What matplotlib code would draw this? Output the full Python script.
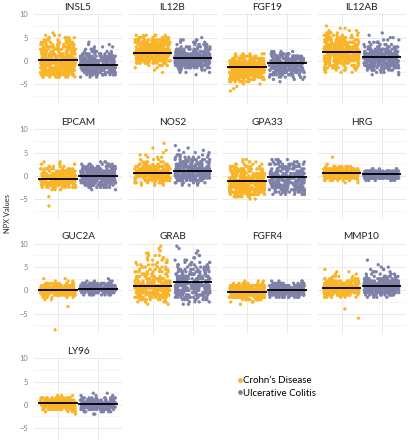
import numpy as np
import pandas as pd
import seaborn as sns
import matplotlib
matplotlib.use('Agg')
import matplotlib.pyplot as plt
from matplotlib.lines import Line2D

# marker panels, in facet order
markers = ['INSL5', 'IL12B', 'FGF19', 'IL12AB',
           'EPCAM', 'NOS2', 'GPA33', 'HRG',
           'GUC2A', 'GRAB', 'FGFR4', 'MMP10',
           'LY96']
groups = ['Crohn’s Disease', 'Ulcerative Colitis']

# NPX value -> number of patients (0.5 steps)
cd_counts = [
    {-3.5: 10, -3.0: 22, -2.5: 26, -2.0: 28, -1.5: 30, -1.0: 30, -0.5: 30, 0.0: 28, 0.5: 26, 1.0: 24,
     1.5: 22, 2.0: 20, 2.5: 18, 3.0: 16, 3.5: 13, 4.0: 10, 4.5: 8, 5.0: 6, 5.5: 3, 6.0: 1},
    {-2.5: 1, -2.0: 1, -1.5: 2, -1.0: 6, -0.5: 14, 0.0: 22, 0.5: 28, 1.0: 34, 1.5: 38, 2.0: 38,
     2.5: 36, 3.0: 32, 3.5: 28, 4.0: 24, 4.5: 18, 5.0: 12, 5.5: 6},
    {-6.5: 1, -6.0: 1, -5.5: 1, -5.0: 2, -4.5: 8, -4.0: 18, -3.5: 26, -3.0: 32, -2.5: 36, -2.0: 38,
     -1.5: 40, -1.0: 38, -0.5: 34, 0.0: 28, 0.5: 20, 1.0: 12, 1.5: 5},
    {-2.5: 3, -2.0: 6, -1.5: 10, -1.0: 14, -0.5: 18, 0.0: 22, 0.5: 26, 1.0: 28, 1.5: 30, 2.0: 30,
     2.5: 28, 3.0: 26, 3.5: 24, 4.0: 20, 4.5: 16, 5.0: 12, 5.5: 9, 6.0: 6, 6.5: 3, 7.0: 2, 7.5: 1},
    {-6.5: 1, -4.5: 1, -3.0: 3, -2.5: 14, -2.0: 30, -1.5: 44, -1.0: 52, -0.5: 52, 0.0: 44, 0.5: 32,
     1.0: 20, 1.5: 12, 2.0: 6, 2.5: 3, 3.0: 2},
    {-2.0: 3, -1.5: 10, -1.0: 24, -0.5: 38, 0.0: 48, 0.5: 50, 1.0: 44, 1.5: 32, 2.0: 20, 2.5: 10,
     3.0: 5, 3.5: 3, 4.0: 3, 4.5: 2, 5.0: 1, 5.5: 1, 6.0: 1, 7.0: 1},
    {-5.0: 2, -4.5: 8, -4.0: 18, -3.5: 26, -3.0: 30, -2.5: 32, -2.0: 32, -1.5: 32, -1.0: 30, -0.5: 28,
     0.0: 24, 0.5: 20, 1.0: 16, 1.5: 12, 2.0: 9, 2.5: 6, 3.0: 4, 3.5: 2},
    {-1.5: 2, -1.0: 10, -0.5: 30, 0.0: 60, 0.5: 80, 1.0: 60, 1.5: 28, 2.0: 8, 2.5: 1, 4.0: 1},
    {-8.5: 1, -3.5: 1, -2.0: 2, -1.5: 8, -1.0: 30, -0.5: 60, 0.0: 80, 0.5: 70, 1.0: 40, 1.5: 12,
     2.0: 3, 2.5: 2},
    {-3.0: 2, -2.5: 4, -2.0: 10, -1.5: 18, -1.0: 26, -0.5: 32, 0.0: 34, 0.5: 34, 1.0: 30, 1.5: 24,
     2.0: 18, 2.5: 14, 3.0: 11, 3.5: 9, 4.0: 8, 4.5: 7, 5.0: 6, 5.5: 5, 6.0: 4, 6.5: 4, 7.0: 3,
     7.5: 3, 8.0: 2, 8.5: 1, 9.0: 1, 9.5: 1},
    {-3.0: 1, -2.5: 3, -2.0: 14, -1.5: 34, -1.0: 50, -0.5: 58, 0.0: 56, 0.5: 44, 1.0: 26, 1.5: 8,
     2.0: 3},
    {-6.0: 1, -4.0: 1, -1.5: 6, -1.0: 20, -0.5: 38, 0.0: 50, 0.5: 54, 1.0: 46, 1.5: 32, 2.0: 18,
     2.5: 8, 3.0: 4, 3.5: 2, 4.0: 2, 4.5: 1},
    {-2.0: 1, -1.5: 4, -1.0: 18, -0.5: 48, 0.0: 70, 0.5: 70, 1.0: 44, 1.5: 14, 2.0: 3},
]
uc_counts = [
    {-3.5: 3, -3.0: 16, -2.5: 28, -2.0: 36, -1.5: 42, -1.0: 44, -0.5: 40, 0.0: 34, 0.5: 26, 1.0: 18,
     1.5: 12, 2.0: 8, 2.5: 4, 3.0: 3, 3.5: 2, 4.0: 1},
    {-3.0: 1, -2.5: 3, -2.0: 6, -1.5: 14, -1.0: 24, -0.5: 34, 0.0: 40, 0.5: 42, 1.0: 40, 1.5: 32,
     2.0: 22, 2.5: 14, 3.0: 9, 3.5: 7, 4.0: 5, 4.5: 4, 5.0: 1},
    {-4.5: 1, -4.0: 3, -3.5: 8, -3.0: 14, -2.5: 20, -2.0: 26, -1.5: 30, -1.0: 34, -0.5: 36, 0.0: 34,
     0.5: 28, 1.0: 20, 1.5: 12, 2.0: 4},
    {-3.0: 2, -2.5: 4, -2.0: 10, -1.5: 18, -1.0: 26, -0.5: 32, 0.0: 38, 0.5: 40, 1.0: 38, 1.5: 32,
     2.0: 24, 2.5: 16, 3.0: 10, 3.5: 7, 4.0: 5, 4.5: 3, 5.0: 2, 5.5: 1, 6.0: 1},
    {-3.0: 2, -2.5: 8, -2.0: 18, -1.5: 28, -1.0: 36, -0.5: 42, 0.0: 44, 0.5: 40, 1.0: 34, 1.5: 26,
     2.0: 16, 2.5: 8, 3.0: 3},
    {-2.0: 3, -1.5: 8, -1.0: 16, -0.5: 24, 0.0: 30, 0.5: 34, 1.0: 34, 1.5: 30, 2.0: 24, 2.5: 18,
     3.0: 14, 3.5: 10, 4.0: 7, 4.5: 5, 5.0: 3, 5.5: 2, 6.0: 1, 6.5: 1},
    {-4.0: 6, -3.5: 14, -3.0: 18, -2.5: 20, -2.0: 22, -1.5: 22, -1.0: 22, -0.5: 22, 0.0: 22, 0.5: 20,
     1.0: 18, 1.5: 16, 2.0: 14, 2.5: 12, 3.0: 9, 3.5: 4},
    {-1.0: 6, -0.5: 36, 0.0: 80, 0.5: 80, 1.0: 36, 1.5: 5},
    {-1.0: 8, -0.5: 30, 0.0: 60, 0.5: 66, 1.0: 50, 1.5: 22, 2.0: 4, 2.5: 1},
    {-3.0: 2, -2.5: 4, -2.0: 8, -1.5: 12, -1.0: 16, -0.5: 20, 0.0: 22, 0.5: 24, 1.0: 24, 1.5: 24,
     2.0: 22, 2.5: 20, 3.0: 18, 3.5: 15, 4.0: 12, 4.5: 10, 5.0: 8, 5.5: 6, 6.0: 5, 6.5: 3, 7.0: 2,
     7.5: 2, 8.0: 1, 8.5: 1, 9.0: 1, 9.5: 1},
    {-1.5: 12, -1.0: 34, -0.5: 50, 0.0: 56, 0.5: 48, 1.0: 32, 1.5: 14, 2.0: 4},
    {-1.5: 4, -1.0: 14, -0.5: 28, 0.0: 40, 0.5: 46, 1.0: 46, 1.5: 38, 2.0: 28, 2.5: 18, 3.0: 10,
     3.5: 6, 4.0: 4, 4.5: 3, 5.0: 2, 5.5: 1, 6.5: 1},
    {-2.0: 2, -1.5: 6, -1.0: 22, -0.5: 48, 0.0: 62, 0.5: 56, 1.0: 34, 1.5: 10, 2.0: 3, 2.5: 2},
]
# medians (black bars)
cd_medians = [0.15, 1.7, -1.3, 1.85, -0.7, 0.5, -1.1, 0.5, 0.1, 0.95, -0.3, 0.55, 0.3]
uc_medians = [-0.9, 0.7, -0.5, 0.85, 0.0, 1.0, -0.35, 0.3, 0.35, 1.8, 0.0, 0.95, 0.15]

colors = ['#F9B428', '#7F81A9']

plt.rcParams['font.family'] = ['Lato', 'DejaVu Sans']
np.random.seed(7)

fig = plt.figure(figsize=(4.08, 4.40), dpi=100)

lefts = [34, 128.5, 223, 317.5]
tops = [13, 128, 242.5, 357]
pw, ph = 88, 91

for i, name in enumerate(markers):
    r, c = divmod(i, 4)
    ax = fig.add_axes([lefts[c] / 408, (440 - tops[r] - ph) / 440, pw / 408, ph / 440])
    vals, grp = [], []
    for g, d in zip(groups, [cd_counts[i], uc_counts[i]]):
        v = np.repeat(list(d.keys()), list(d.values()))
        vals.extend(v)
        grp.extend([g] * len(v))
    df = pd.DataFrame({'group': grp, 'npx': vals})
    sns.stripplot(data=df, x='group', y='npx', hue='group', order=groups, hue_order=groups,
                  palette=colors, jitter=0.44, size=2.4, linewidth=0, legend=False, ax=ax,
                  zorder=2)
    for k, med in enumerate([cd_medians[i], uc_medians[i]]):
        ax.hlines(med, k - 0.49, k + 0.49, color='black', lw=1.3, zorder=4)

    ax.set_xlim(-0.6, 1.6)
    ax.set_ylim(-9.3, 10.3)
    ax.set_yticks([-5, 0, 5, 10])
    ax.set_yticks([-7.5, -2.5, 2.5, 7.5], minor=True)
    ax.set_xticks([0, 1])
    ax.grid(which='major', color='#e6e6e6', lw=0.6)
    ax.grid(which='minor', axis='y', color='#f2f2f2', lw=0.5)
    ax.set_axisbelow(True)
    for s in ax.spines.values():
        s.set_visible(False)
    ax.tick_params(which='both', length=0)
    ax.set_xticklabels([])
    ax.set_xlabel('')
    ax.set_ylabel('')
    if c == 0:
        ax.tick_params(axis='y', labelsize=5.4, labelcolor='#808080', pad=4)
    else:
        ax.set_yticklabels([])
    ax.set_title(name, fontsize=7.2, color='#222222', pad=2.5)

fig.text(7 / 408, 1 - 213 / 440, 'NPX Values', rotation=90, fontsize=5.4,
         ha='center', va='center', color='#222222')

handles = [Line2D([], [], marker='o', ls='', color=col, markersize=2.4) for col in colors]
fig.legend(handles, groups, loc='center left', bbox_to_anchor=(238 / 408, 1 - 387 / 440),
           frameon=False, fontsize=7.0, handlelength=0.4, handletextpad=0.15,
           labelspacing=0.35, borderpad=0, borderaxespad=0)

fig.savefig('out.png', dpi=100)
